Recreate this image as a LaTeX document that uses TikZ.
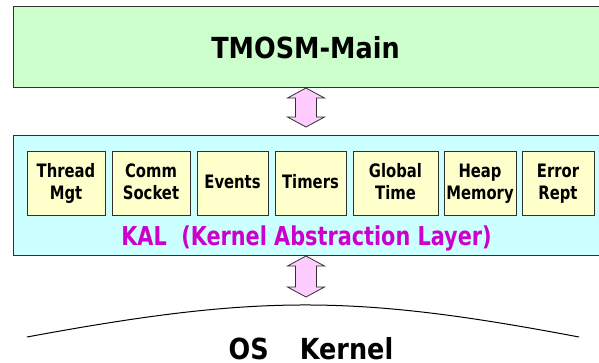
\documentclass[tikz,border=0pt]{standalone}
\usepackage{fontspec}
\newfontfamily\titlesans{DejaVu Sans}[FakeStretch=0.88]
\newfontfamily\narrowsans{DejaVu Sans}[FakeStretch=0.8]
\usetikzlibrary{calc}

\definecolor{maingreen}{HTML}{CCFFCC}
\definecolor{kalcyan}{HTML}{CCFFFF}
\definecolor{cellyellow}{HTML}{FFFFCC}
\definecolor{arrowpink}{HTML}{FFCCFF}
\definecolor{kalmagenta}{HTML}{CC00CC}
\definecolor{edge}{HTML}{303030}

% fixed first-line height and last-line depth, so every cell sets its lines alike
\newcommand\cellstrut{\rule[-4pt]{0pt}{18pt}}

\tikzset{
  layerbox/.style={draw=edge, line width=1pt, anchor=north west, inner sep=0pt},
  cell/.style={draw=edge, fill=cellyellow, line width=0.8pt, minimum height=64pt,
    inner sep=0pt, align=center, font=\narrowsans\bfseries\fontsize{18.5}{22}\selectfont},
  bigtitle/.style={anchor=base, inner sep=0pt, font=\titlesans\bfseries\fontsize{29}{32}\selectfont},
  kaltitle/.style={anchor=base, inner sep=0pt, text=kalmagenta,
    font=\narrowsans\bfseries\fontsize{26}{28}\selectfont},
  blockarrowstyle/.style={draw=edge, fill=arrowpink, line width=0.8pt, line join=miter},
  kernelline/.style={draw=black, line width=1pt}
}

% vertical double block arrow between two points on one vertical axis
\newcommand\blockarrow[2]{%
  \draw[blockarrowstyle] let \p1=(#1), \p2=(#2) in
    (\x1,\y1) -- (\x1+18.5pt,\y1-10pt) -- (\x1+10.5pt,\y1-10pt)
    -- (\x1+10.5pt,\y2+10pt) -- (\x1+18.5pt,\y2+10pt) -- (\x1,\y2)
    -- (\x1-18.5pt,\y2+10pt) -- (\x1-10.5pt,\y2+10pt)
    -- (\x1-10.5pt,\y1-10pt) -- (\x1-18.5pt,\y1-10pt) -- cycle;}

\begin{document}
\begin{tikzpicture}[x=1pt,y=-1pt]
\useasboundingbox (0,0) rectangle (599,362);

% application layer
\node[layerbox, fill=maingreen, minimum width=587pt, minimum height=81pt] (main) at (13,6) {};
\node[bigtitle] (maintext) at (305.5,58) {TMOSM-Main};

% kernel abstraction layer
\node[layerbox, fill=kalcyan, minimum width=587pt, minimum height=120pt] (kal) at (13,135) {};
\node[cell, minimum width=78pt] (thread) at (66,183)    {\cellstrut Thread\\\cellstrut Mgt};
\node[cell, minimum width=78pt] (comm)   at (151,183)   {\cellstrut Comm\\\cellstrut Socket};
\node[cell, minimum width=71pt] (events) at (232.5,183) {\cellstrut Events};
\node[cell, minimum width=71pt] (timers) at (310.5,183) {\cellstrut Timers};
\node[cell, minimum width=85pt] (global) at (395.5,183) {\cellstrut Global\\\cellstrut Time};
\node[cell, minimum width=72pt] (heap)   at (480,183)   {\cellstrut Heap\\\cellstrut Memory};
\node[cell, minimum width=72pt] (error)  at (558,183)   {\cellstrut Error\\\cellstrut Rept};
\node[kaltitle] (kaltext) at (306.5,245.5) {KAL\ \ (Kernel Abstraction Layer)};

% OS kernel boundary: one smooth cubic whose crest lies at (ktop)
\coordinate (kl) at (27,337);
\coordinate (ktop) at (305.25,305);
\coordinate (kr) at (579,337);
\draw[kernelline] (kl) .. controls (258,294.3) and (354,294.3) .. (kr);
\node[bigtitle] (kernel) at (311,359.5) {OS\hspace{31pt}Kernel};

% interfaces between the layers
\coordinate (axis) at (306,0);
\coordinate (a1top) at (axis |- main.south);
\coordinate (a1bot) at ($(axis |- kal.north)+(0,-8)$);
\coordinate (a2top) at (axis |- kal.south);
\coordinate (a2bot) at ($(axis |- ktop)+(0,-8)$);
\blockarrow{a1top}{a1bot}
\blockarrow{a2top}{a2bot}
\end{tikzpicture}
\end{document}
